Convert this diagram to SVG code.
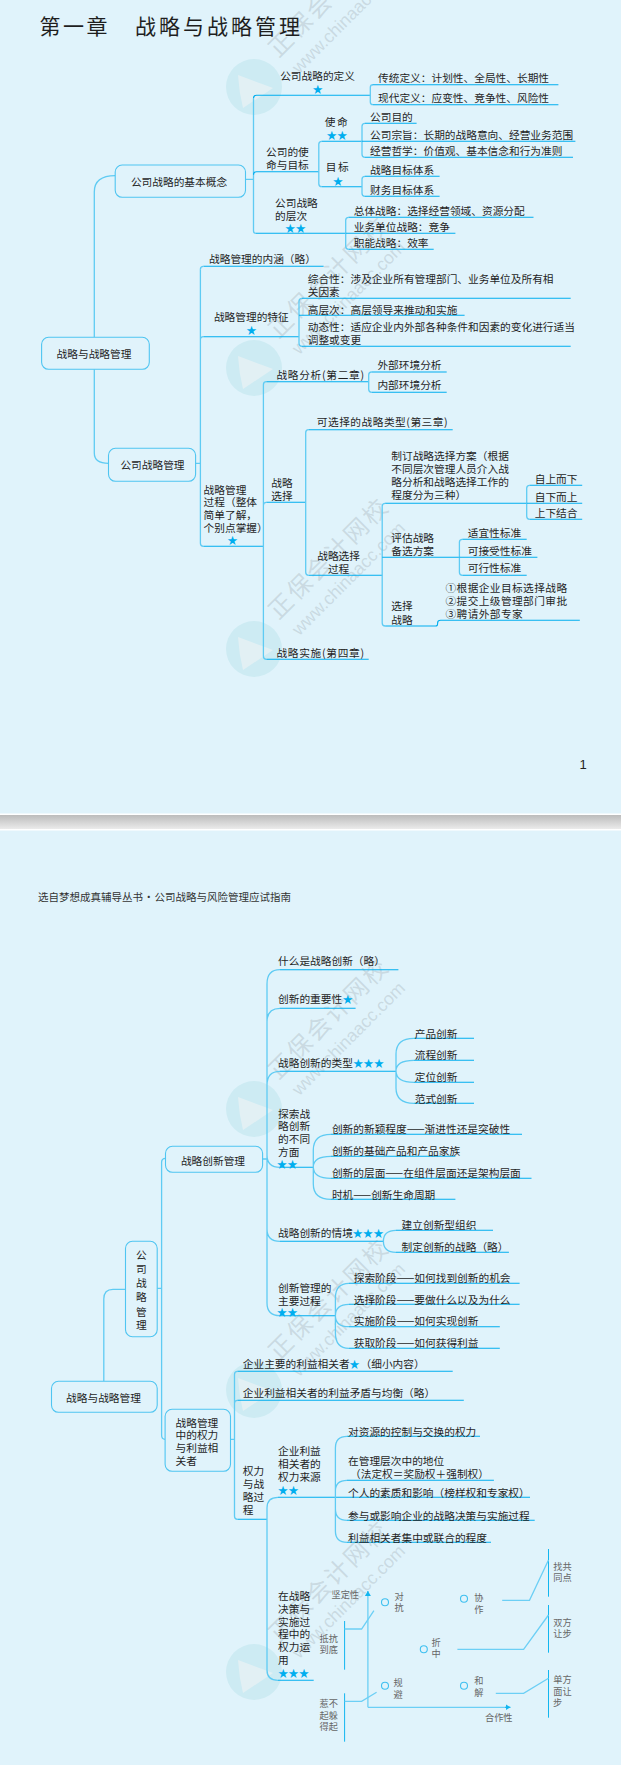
<svg xmlns="http://www.w3.org/2000/svg" xmlns:xlink="http://www.w3.org/1999/xlink" width="621" height="1765" viewBox="0 0 621 1765">
<style>
text{font-family:"Noto Sans CJK SC","Noto Sans",sans-serif}
.t{font-size:10.7px;fill:#1f1f1f;dominant-baseline:central}
.g{font-size:9.2px;fill:#666;dominant-baseline:central}
.c{text-anchor:middle}
.s{font-size:10.4px;fill:#00aeef;dominant-baseline:central;text-anchor:middle}
.l{fill:none;stroke:#00aeef;stroke-width:1.1}
.d{fill:none;stroke:#5fcbf3;stroke-width:1.3}
.a{fill:none;stroke:#6ccff5;stroke-width:1.3}
.n{fill:none;stroke:#12b6f0;stroke-width:1}
.b{fill:#e0f3fb;stroke:#4fc5f1;stroke-width:1.1}
.dot{fill:none;stroke:#3fc0f0;stroke-width:1.1}
.wt{fill:#aebcc3;fill-opacity:.45}
</style>
<defs>
<linearGradient id="sep" x1="0" y1="0" x2="0" y2="1"><stop offset="0" stop-color="#bcbcbc"/><stop offset="1" stop-color="#ebebeb"/></linearGradient>
<marker id="ah" markerWidth="6" markerHeight="6" refX="5" refY="3" orient="auto" markerUnits="userSpaceOnUse"><path d="M0 0L5 3L0 6z" fill="#12b6f0"/></marker>
<g id="wm">
<circle cx="0" cy="0" r="28" fill="#cdebf3"/>
<path d="M-16 -12L19 1L-11 21Q-15 5-16 -12z" fill="#e2f0f4"/>
<text class="wt" transform="translate(17 -36) rotate(-45)" font-size="24" letter-spacing="2.6" dominant-baseline="central">正保会计网校</text>
<text class="wt" transform="translate(41 -17) rotate(-45)" font-size="17.8" dominant-baseline="central" style="font-family:'Liberation Sans',sans-serif">www.chinaacc.com</text>
</g>
</defs>
<rect width="621" height="1765" fill="#e0f3fb"/>
<g id="separator"><rect y="813.5" width="621" height="17" fill="#fff"/><rect y="815" width="621" height="14" fill="url(#sep)"/></g>
<g id="watermarks">
<use href="#wm" x="254" y="87"/><use href="#wm" x="254" y="368"/><use href="#wm" x="254" y="649"/><use href="#wm" x="254" y="1109"/><use href="#wm" x="254" y="1390"/><use href="#wm" x="254" y="1672"/>
</g>
<g id="connectors">
<path class="d" d="M94.3 337.3V192Q94.3 175.7 115.2 175.7M94.3 369.3V453Q94.3 463.3 108.5 463.3"/>
<path class="d" d="M245.5 179.3H253.5M253.5 98.3V231Q253.5 233.3 256 233.3M195.6 463.3H200.4M200.4 269.3V543.3Q200.4 546.3 203.4 546.3M200.4 340Q200.4 336.7 203.4 336.7"/>
<path class="l" d="M253.5 98.3Q253.5 95.3 256.5 95.3H370.3M253.5 174.7Q253.5 171.7 256.5 171.7H318.8M256 233.3H345.7"/>
<path class="l" d="M372 84.7H558.4M373 104.7H558.4"/><path class="d" d="M373 84.7Q370.3 84.7 370.3 87.4V102Q370.3 104.7 373 104.7"/>
<path class="d" d="M321.8 141.3Q318.8 141.3 318.8 144.3V183.7Q318.8 186.7 321.8 186.7"/>
<path class="l" d="M321.8 141.3H362M321.8 186.7H362"/>
<path class="d" d="M365 123.3Q362 123.3 362 126.3V154.3Q362 157.3 365 157.3M365 176.3Q362 176.3 362 179.3V193.3Q362 196.3 365 196.3"/>
<path class="l" d="M365 123.3H416.6M362 141.3H575.4M365 157.3H573M365 176.3H439.6M365 196.3H439.6"/>
<path class="d" d="M348.7 217.3Q345.7 217.3 345.7 220.3V246.3Q345.7 249.3 348.7 249.3"/>
<path class="l" d="M348.7 217.3H533.5M345.7 233.3H455.4M348.7 249.3H433.7"/>
<path class="l" d="M203.4 266.3H323.6M203.4 336.7H299M203.4 546.3H263.4"/><path class="d" d="M203.4 266.3Q200.4 266.3 200.4 269.3"/>
<path class="d" d="M302 298.3Q299 298.3 299 301.3V343.3Q299 346.3 302 346.3"/>
<path class="l" d="M302 298.3H570.7M299 315.3H464.6M302 346.3H570.7"/>
<path class="d" d="M263.4 384.7V656.3Q263.4 659.3 266.4 659.3M266.4 381.7Q263.4 381.7 263.4 384.7M263.4 505.3Q263.4 502.3 266.4 502.3"/>
<path class="l" d="M266.4 381.7H368.3M266.4 659.3H368.7M266.4 502.3H305.7"/>
<path class="d" d="M371.7 372Q368.7 372 368.7 375V389.3Q368.7 392.3 371.7 392.3"/>
<path class="l" d="M371.7 372H446.7M371.7 392.3H446.7"/>
<path class="d" d="M308.7 429.7Q305.7 429.7 305.7 432.7V572.3Q305.7 575.3 308.7 575.3"/>
<path class="l" d="M308.7 429.7H452.7M308.7 575.3H382.2"/>
<path class="d" d="M385.2 503.3Q382.2 503.3 382.2 506.3V623Q382.2 626 385.2 626"/>
<path class="l" d="M385.2 503.3H526.7M382.2 557.3H459.4M385.2 626H435.6Q437.6 626 437.6 624V623Q437.6 620.3 440.6 620.3H579.8"/>
<path class="d" d="M529.7 485.3Q526.7 485.3 526.7 488.3V516.3Q526.7 519.3 529.7 519.3"/>
<path class="l" d="M529.7 485.3H582.2M526.7 503.3H582.2M529.7 519.3H582.2"/>
<path class="d" d="M462.4 539.3Q459.4 539.3 459.4 542.3V572.3Q459.4 575.3 462.4 575.3"/>
<path class="l" d="M462.4 539.3H526.7M459.4 557.3H537.4M462.4 575.3H526.7"/>
<path class="d" d="M125.5 1289.3H113Q103.8 1289.3 103.8 1299V1381.3M157.2 1288.3H161.6M165.5 1158.3Q161.6 1158.3 161.6 1162.3V1435.3Q161.6 1439.3 165.1 1439.3M262.6 1159H267"/>
<path class="d" d="M280 969.7Q267 969.7 267 984V1303Q267 1315.7 280 1315.7M280 1008.3Q267 1008.3 267 1022M280 1071.3Q267 1071.3 267 1085M267 1155Q267 1167.3 280 1167.3M267 1229Q267 1241.3 280 1241.3"/>
<path class="l" d="M280 969.7H398.4M280 1008.3H355.6M280 1071.3H396M280 1167.3H313.3M280 1241.3H383.4M280 1315.7H335.4"/>
<path class="d" d="M414 1038.3Q396 1038.3 396 1054V1088Q396 1103.3 414 1103.3M414 1060.3Q396 1060.3 396 1071M396 1071Q396 1082.3 414 1082.3"/>
<path class="l" d="M414 1038.3H474M414 1060.3H474M414 1082.3H474M414 1103.3H474"/>
<path class="d" d="M331 1134.3Q313.3 1134.3 313.3 1150V1184Q313.3 1199.3 331 1199.3M331 1156.3Q313.3 1156.3 313.3 1167M313.3 1167Q313.3 1178.3 331 1178.3"/>
<path class="l" d="M331 1134.3H522M331 1156.3H455.4M331 1178.3H531.5M331 1199.3H455.4"/>
<path class="d" d="M396 1230.3Q383.4 1230.3 383.4 1241.3Q383.4 1252.3 396 1252.3"/>
<path class="l" d="M396 1230.3H493M396 1252.3H508.9"/>
<path class="d" d="M349 1283.3Q335.4 1283.3 335.4 1298V1333Q335.4 1348.3 349 1348.3M349 1304.3Q335.4 1304.3 335.4 1315.7Q335.4 1326.7 349 1326.7"/>
<path class="l" d="M349 1283.3H519.6M349 1304.3H519.6M349 1326.7H499.8M349 1348.3H499.8"/>
<path class="d" d="M230.5 1439.3H234.5M237.5 1371.3Q234.5 1371.3 234.5 1374.3V1516.3Q234.5 1519.3 237.5 1519.3M234.5 1403.3Q234.5 1400.3 237.5 1400.3"/>
<path class="l" d="M237.5 1371.3H452.7M237.5 1400.3H463.8M237.5 1519.3H267"/>
<path class="d" d="M278 1497.3Q267 1497.3 267 1508V1670Q267 1680.3 278 1680.3"/>
<path class="l" d="M278 1497.3H530M278 1680.3H313.7"/>
<path class="d" d="M347 1436.3Q335.4 1436.3 335.4 1448V1531Q335.4 1542.3 347 1542.3M347 1480.3Q335.4 1480.3 335.4 1491V1509Q335.4 1520.3 347 1520.3"/>
<path class="l" d="M347 1436.3H480M347 1480.3H493.9M347 1520.3H534.7M347 1542.3H491"/>
<path class="a" d="M367.9 1707.3V1594"/>
<path class="n" d="M367.9 1596V1591" marker-end="url(#ah)"/>
<path class="a" d="M367.9 1707.3H507"/>
<path class="n" d="M505 1707.3H510.5" marker-end="url(#ah)"/>
<path class="n" d="M344.6 1621V1669.7M344.6 1693.3V1741.7M548.5 1549V1596.7M548.5 1605V1652.7M548.5 1670V1717.7"/>
<path class="a" d="M344.6 1629H361.6L373.9 1610.7M344.6 1701.3H361.6L376.6 1692.3M502.2 1600.3H529.5L548.5 1560M457.4 1649.3H523.6L548.5 1615M495.8 1693.3H523.6L548.5 1678.3"/>
</g>
<g id="title"><text x="39.6" y="33.5" font-size="21" letter-spacing="2.4" fill="#1e1e1e">第一章</text><text x="135" y="33.5" font-size="21" letter-spacing="3" fill="#1e1e1e">战略与战略管理</text></g>
<g id="root1"><rect class="b" x="41.6" y="337.3" width="107.7" height="32" rx="7"/><text class="t c" x="94" y="353.5">战略与战略管理</text></g>
<g id="n1"><rect class="b" x="115.2" y="165" width="130.3" height="32.3" rx="7"/><text class="t c" x="179" y="181">公司战略的基本概念</text></g>
<g id="n2"><rect class="b" x="108.5" y="448.3" width="87.1" height="33" rx="7"/><text class="t c" x="152.5" y="464.5">公司战略管理</text></g>
<g id="n1a"><text class="t c" x="317.6" y="75">公司战略的定义</text><text class="s" x="317.6" y="88">★</text></g>
<g id="n1a1"><text class="t" x="378" y="77.3">传统定义：计划性、全局性、长期性</text></g>
<g id="n1a2"><text class="t" x="378" y="97.3">现代定义：应变性、竞争性、风险性</text></g>
<g id="n1b"><text class="t" x="266" y="151.7">公司的使</text><text class="t" x="266" y="164">命与目标</text></g>
<g id="n1b1"><text class="t c" x="337" y="121" letter-spacing="1.5">使命</text><text class="s" x="337" y="134.3">★★</text></g>
<g id="n1b2"><text class="t c" x="338" y="166.3" letter-spacing="1.5">目标</text><text class="s" x="338" y="180">★</text></g>
<g id="n1b1a"><text class="t" x="370" y="116.7">公司目的</text></g>
<g id="n1b1b"><text class="t" x="370" y="134">公司宗旨：长期的战略意向、经营业务范围</text></g>
<g id="n1b1c"><text class="t" x="370" y="150.3">经营哲学：价值观、基本信念和行为准则</text></g>
<g id="n1b2a"><text class="t" x="370" y="169">战略目标体系</text></g>
<g id="n1b2b"><text class="t" x="370" y="189.3">财务目标体系</text></g>
<g id="n1c"><text class="t" x="275" y="202.3">公司战略</text><text class="t" x="275" y="215">的层次</text><text class="s" x="295.4" y="227.5">★★</text></g>
<g id="n1c1"><text class="t" x="353.7" y="210">总体战略：选择经营领域、资源分配</text></g>
<g id="n1c2"><text class="t" x="353.7" y="226">业务单位战略：竞争</text></g>
<g id="n1c3"><text class="t" x="353.7" y="242.3">职能战略：效率</text></g>
<g id="n2a"><text class="t" x="209" y="258">战略管理的内涵（略）</text></g>
<g id="n2b"><text class="t" x="213.9" y="316.3">战略管理的特征</text><text class="s" x="251.5" y="329.7">★</text></g>
<g id="n2b1"><text class="t" x="307.7" y="278">综合性：涉及企业所有管理部门、业务单位及所有相</text><text class="t" x="307.7" y="291">关因素</text></g>
<g id="n2b2"><text class="t" x="307.7" y="309">高层次：高层领导来推动和实施</text></g>
<g id="n2b3"><text class="t" x="307.7" y="326.3">动态性：适应企业内外部各种条件和因素的变化进行适当</text><text class="t" x="307.7" y="339.3">调整或变更</text></g>
<g id="n2c"><text class="t" x="203.6" y="489">战略管理</text><text class="t" x="203.6" y="501.7">过程（整体</text><text class="t" x="203.6" y="514.3">简单了解，</text><text class="t" x="203.6" y="527">个别点掌握）</text><text class="s" x="232.5" y="539.3">★</text></g>
<g id="n2c1"><text class="t" x="276.4" y="374" letter-spacing=".7">战略分析(第二章)</text></g>
<g id="n2c1a"><text class="t" x="377.4" y="364.7">外部环境分析</text></g>
<g id="n2c1b"><text class="t" x="377.4" y="384">内部环境分析</text></g>
<g id="n2c2"><text class="t" x="271.3" y="482.7">战略</text><text class="t" x="271.3" y="495.7">选择</text></g>
<g id="n2c2a"><text class="t" x="316.8" y="421" letter-spacing=".5">可选择的战略类型(第三章)</text></g>
<g id="n2c2b"><text class="t c" x="338.6" y="555.3">战略选择</text><text class="t c" x="338.6" y="568">过程</text></g>
<g id="n2c2b1"><text class="t" x="391.3" y="455.7">制订战略选择方案（根据</text><text class="t" x="391.3" y="468.7">不同层次管理人员介入战</text><text class="t" x="391.3" y="481.3">略分析和战略选择工作的</text><text class="t" x="391.3" y="494">程度分为三种）</text></g>
<g id="n2c2b1a"><text class="t" x="534.7" y="478.3">自上而下</text></g>
<g id="n2c2b1b"><text class="t" x="534.7" y="496">自下而上</text></g>
<g id="n2c2b1c"><text class="t" x="534.7" y="512.3">上下结合</text></g>
<g id="n2c2b2"><text class="t" x="391.3" y="537.7">评估战略</text><text class="t" x="391.3" y="550.7">备选方案</text></g>
<g id="n2c2b2a"><text class="t" x="467.7" y="532.7">适宜性标准</text></g>
<g id="n2c2b2b"><text class="t" x="467.7" y="550.3">可接受性标准</text></g>
<g id="n2c2b2c"><text class="t" x="467.7" y="567.7">可行性标准</text></g>
<g id="n2c2b3"><text class="t" x="391.3" y="605.7">选择</text><text class="t" x="391.3" y="619">战略</text></g>
<g id="n2c2b3a"><text class="t" x="445.5" y="587" letter-spacing=".4">①根据企业目标选择战略</text><text class="t" x="445.5" y="600" letter-spacing=".4">②提交上级管理部门审批</text><text class="t" x="445.5" y="613.3" letter-spacing=".4">③聘请外部专家</text></g>
<g id="n2c3"><text class="t" x="276.4" y="652" letter-spacing=".7">战略实施(第四章)</text></g>
<g id="page"><text x="583" y="769" font-size="13" text-anchor="middle" fill="#222" style="font-family:'Liberation Sans',sans-serif">1</text></g>
<g id="header"><text y="896" font-size="10.5" fill="#333" dominant-baseline="central"><tspan x="38">选自梦想成真辅导丛书</tspan><tspan x="143.5">·</tspan><tspan x="154.5">公司战略与风险管理应试指南</tspan></text></g>
<g id="root2"><rect class="b" x="51.5" y="1381.3" width="105.7" height="31" rx="7"/><text class="t c" x="103.5" y="1397">战略与战略管理</text></g>
<g id="m"><rect class="b" x="125.5" y="1241.3" width="31.7" height="95.4" rx="7"/><text class="t c" x="141.4" y="1254.3">公</text><text class="t c" x="141.4" y="1268.3">司</text><text class="t c" x="141.4" y="1282.7">战</text><text class="t c" x="141.4" y="1296.7">略</text><text class="t c" x="141.4" y="1311">管</text><text class="t c" x="141.4" y="1324.7">理</text></g>
<g id="m1"><rect class="b" x="165.5" y="1146.3" width="97.1" height="26" rx="7"/><text class="t c" x="213" y="1160">战略创新管理</text></g>
<g id="m2"><rect class="b" x="165.1" y="1409.3" width="65.4" height="62" rx="7"/><text class="t" x="175.5" y="1422">战略管理</text><text class="t" x="175.5" y="1434.7">中的权力</text><text class="t" x="175.5" y="1447.3">与利益相</text><text class="t" x="175.5" y="1460">关者</text></g>
<g id="m1a"><text class="t" x="278" y="960.3">什么是战略创新（略）</text></g>
<g id="m1b"><text class="t" x="278" y="998.3">创新的重要性</text><text class="s" x="347.7" y="998">★</text></g>
<g id="m1c"><text class="t" x="278" y="1062">战略创新的类型</text><text class="s" x="368.5" y="1062.7">★★★</text></g>
<g id="m1c1"><text class="t" x="414.7" y="1033">产品创新</text></g>
<g id="m1c2"><text class="t" x="414.7" y="1054.7">流程创新</text></g>
<g id="m1c3"><text class="t" x="414.7" y="1076.3">定位创新</text></g>
<g id="m1c4"><text class="t" x="414.7" y="1098">范式创新</text></g>
<g id="m1d"><text class="t" x="278" y="1113">探索战</text><text class="t" x="278" y="1125.7">略创新</text><text class="t" x="278" y="1138.3">的不同</text><text class="t" x="278" y="1151">方面</text><text class="s" x="287.2" y="1163">★★</text></g>
<g id="m1d1"><text class="t" x="331.9" y="1128.7">创新的新颖程度——渐进性还是突破性</text></g>
<g id="m1d2"><text class="t" x="331.9" y="1150.3">创新的基础产品和产品家族</text></g>
<g id="m1d3"><text class="t" x="331.9" y="1172.3">创新的层面——在组件层面还是架构层面</text></g>
<g id="m1d4"><text class="t" x="331.9" y="1194">时机——创新生命周期</text></g>
<g id="m1e"><text class="t" x="278" y="1232">战略创新的情境</text><text class="s" x="368" y="1232.7">★★★</text></g>
<g id="m1e1"><text class="t" x="401.6" y="1224.7">建立创新型组织</text></g>
<g id="m1e2"><text class="t" x="401.6" y="1246.3">制定创新的战略（略）</text></g>
<g id="m1f"><text class="t" x="278" y="1287.7">创新管理的</text><text class="t" x="278" y="1300.3">主要过程</text><text class="s" x="287.2" y="1311.5">★★</text></g>
<g id="m1f1"><text class="t" x="353.7" y="1277.3">探索阶段——如何找到创新的机会</text></g>
<g id="m1f2"><text class="t" x="353.7" y="1299">选择阶段——要做什么以及为什么</text></g>
<g id="m1f3"><text class="t" x="353.7" y="1320.7">实施阶段——如何实现创新</text></g>
<g id="m1f4"><text class="t" x="353.7" y="1342.3">获取阶段——如何获得利益</text></g>
<g id="m2a"><text class="t" x="242.8" y="1363">企业主要的利益相关者</text><text class="s" x="354.5" y="1363">★</text><text class="t" x="360.5" y="1363">（细小内容）</text></g>
<g id="m2b"><text class="t" x="242.8" y="1392">企业利益相关者的利益矛盾与均衡（略）</text></g>
<g id="m2c"><text class="t" x="242.8" y="1470.7">权力</text><text class="t" x="242.8" y="1483.7">与战</text><text class="t" x="242.8" y="1496.7">略过</text><text class="t" x="242.8" y="1509.3">程</text></g>
<g id="m2c1"><text class="t" x="278" y="1450.7">企业利益</text><text class="t" x="278" y="1463.3">相关者的</text><text class="t" x="278" y="1476">权力来源</text><text class="s" x="288.2" y="1489">★★</text></g>
<g id="m2c1a"><text class="t" x="348" y="1431.7">对资源的控制与交换的权力</text></g>
<g id="m2c1b"><text class="t" x="348" y="1460.7">在管理层次中的地位</text><text class="t" x="350" y="1473.3">（法定权＝奖励权＋强制权）</text></g>
<g id="m2c1c"><text class="t" x="348" y="1492.3">个人的素质和影响（榜样权和专家权）</text></g>
<g id="m2c1d"><text class="t" x="348" y="1515">参与或影响企业的战略决策与实施过程</text></g>
<g id="m2c1e"><text class="t" x="348" y="1537.3">利益相关者集中或联合的程度</text></g>
<g id="m2c2"><text class="t" x="278" y="1595.3">在战略</text><text class="t" x="278" y="1608.3">决策与</text><text class="t" x="278" y="1621">实施过</text><text class="t" x="278" y="1633.7">程中的</text><text class="t" x="278" y="1646.7">权力运</text><text class="t" x="278" y="1659.3">用</text><text class="s" x="293.5" y="1672.3">★★★</text></g>
<g id="axis-y"><text class="g" x="331.5" y="1593.7">坚定性</text></g>
<g id="axis-x"><text class="g" x="485" y="1717">合作性</text></g>
<g id="q1"><circle class="dot" cx="385" cy="1602.3" r="3.5"/><text class="g c" x="399" y="1595.7">对</text><text class="g c" x="399" y="1607">抗</text></g>
<g id="q2"><circle class="dot" cx="464" cy="1598.7" r="3.5"/><text class="g c" x="478.8" y="1597.3">协</text><text class="g c" x="478.8" y="1608.7">作</text></g>
<g id="q3"><circle class="dot" cx="423.8" cy="1649.3" r="3.5"/><text class="g c" x="436" y="1641.7">折</text><text class="g c" x="436" y="1653.3">中</text></g>
<g id="q4"><circle class="dot" cx="385" cy="1685.7" r="3.5"/><text class="g c" x="398" y="1682.3">规</text><text class="g c" x="398" y="1693.7">避</text></g>
<g id="q5"><circle class="dot" cx="464" cy="1685.7" r="3.5"/><text class="g c" x="478.8" y="1680.3">和</text><text class="g c" x="478.8" y="1692">解</text></g>
<g id="c1"><text class="g c" x="328.7" y="1637.7">抵抗</text><text class="g c" x="328.7" y="1648.7">到底</text></g>
<g id="c2"><text class="g c" x="328.7" y="1703">惹不</text><text class="g c" x="328.7" y="1714.7">起躲</text><text class="g c" x="328.7" y="1726">得起</text></g>
<g id="c3"><text class="g c" x="562.4" y="1565.7">找共</text><text class="g c" x="562.4" y="1577">同点</text></g>
<g id="c4"><text class="g c" x="562.4" y="1621.7">双方</text><text class="g c" x="562.4" y="1633">让步</text></g>
<g id="c5"><text class="g c" x="562.4" y="1679">单方</text><text class="g c" x="562.4" y="1690.7">面让</text><text class="g" x="553" y="1701.7">步</text></g>
</svg>
